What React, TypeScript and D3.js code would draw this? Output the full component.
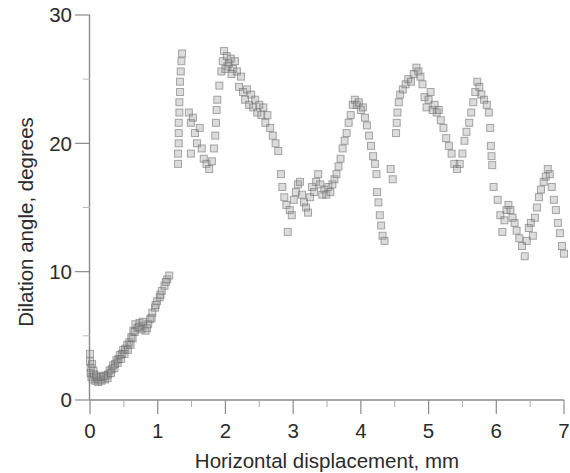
import React from 'react';
import * as d3 from 'd3';

// tick values
const xTicks = [0, 1, 2, 3, 4, 5, 6, 7];
const xMinorTicks = [0.5, 1.5, 2.5, 3.5, 4.5, 5.5, 6.5];
const yTicks = [0, 10, 20, 30];
const yMinorTicks = [5, 15, 25];

// [horizontal displacement mm, dilation angle deg]
const rampPoints: [number, number][] = [
    [0.00, 3.6], [0.00, 3.0], [0.01, 2.5], [0.01, 2.1], [0.02, 1.8], [0.04, 1.6], [0.06, 2.0], [0.08, 1.5],
    [0.10, 1.7], [0.12, 1.4], [0.14, 1.6], [0.17, 1.5], [0.19, 1.8], [0.22, 1.6], [0.24, 1.9], [0.27, 2.0],
    [0.29, 2.3], [0.32, 2.4], [0.34, 2.7], [0.37, 2.8], [0.39, 3.1], [0.42, 3.2], [0.44, 3.5], [0.47, 3.6],
    [0.49, 3.9], [0.52, 4.0], [0.55, 4.3], [0.58, 4.5], [0.61, 4.9], [0.64, 5.4], [0.67, 5.9], [0.70, 5.6],
    [0.73, 6.0], [0.76, 5.5], [0.79, 5.8], [0.82, 5.4], [0.86, 5.9], [0.89, 6.3], [0.92, 6.8], [0.96, 7.2],
    [0.99, 7.7], [1.03, 8.0], [1.06, 8.5], [1.10, 8.9], [1.14, 9.4], [1.17, 9.7],
    [0.03, 2.8], [0.05, 2.3], [0.09, 1.9], [0.16, 1.8], [0.21, 1.9], [0.26, 1.7], [0.31, 2.1], [0.36, 2.5],
    [0.41, 2.9], [0.46, 3.2], [0.51, 3.6], [0.56, 3.9], [0.60, 4.3], [0.63, 4.8], [0.66, 5.3], [0.72, 5.7],
    [0.78, 6.1], [0.84, 5.6], [0.91, 6.4], [0.97, 7.4], [1.04, 8.2], [1.12, 9.2],
];

const firstPeakPoints: [number, number][] = [
    [1.30, 18.4], [1.30, 19.2], [1.31, 20.0], [1.31, 20.8], [1.31, 21.6], [1.32, 22.4], [1.32, 23.2], [1.33, 24.0],
    [1.33, 24.8], [1.34, 25.6], [1.35, 26.4], [1.36, 27.0],
    [1.46, 22.4], [1.49, 21.6], [1.52, 22.0], [1.55, 20.8], [1.49, 19.2], [1.58, 20.0], [1.62, 21.2], [1.65, 19.6],
    [1.68, 18.8], [1.72, 18.4], [1.76, 18.0], [1.80, 18.6], [1.83, 19.6], [1.85, 20.6], [1.86, 21.6], [1.87, 22.6],
    [1.88, 23.4], [1.91, 24.5], [1.94, 25.6], [1.96, 26.4], [1.98, 27.2], [2.02, 26.8], [2.05, 26.2], [2.08, 26.6],
    [2.11, 25.8], [2.14, 26.4], [2.17, 25.6], [2.20, 24.4], [2.23, 25.2], [2.26, 24.0], [2.29, 23.4], [2.32, 24.2],
    [2.35, 23.0], [2.38, 23.8], [2.41, 22.8], [2.44, 23.4], [2.47, 22.4], [2.50, 23.0], [2.53, 22.2], [2.56, 22.8],
    [2.59, 21.6], [2.62, 22.2], [2.66, 21.2], [2.70, 20.6], [2.74, 20.0], [2.78, 19.4],
    [2.03, 26.0], [2.09, 25.4], [2.00, 25.8],
];

const valleyPoints: [number, number][] = [
    [2.82, 17.6], [2.84, 16.6], [2.87, 15.8], [2.90, 15.2], [2.92, 13.1], [2.95, 14.8], [2.98, 14.4], [3.01, 15.6],
    [3.04, 16.2], [3.07, 16.8], [3.10, 17.0], [3.13, 16.0], [3.16, 15.4], [3.19, 15.0], [3.22, 14.6], [3.25, 15.8],
    [3.28, 16.6], [3.31, 16.2], [3.34, 17.0], [3.37, 17.6], [3.40, 16.8], [3.43, 16.0], [3.46, 16.4], [3.49, 16.0],
    [3.52, 16.6], [3.55, 16.2], [3.58, 16.8], [3.61, 17.2],
];

const secondPeakPoints: [number, number][] = [
    [3.64, 17.6], [3.67, 18.2], [3.70, 18.8], [3.73, 19.6], [3.76, 20.2], [3.79, 20.8], [3.82, 21.6], [3.85, 22.2],
    [3.88, 23.0], [3.91, 23.4], [3.94, 23.0], [3.97, 23.2], [4.00, 22.6], [4.03, 22.8], [4.06, 22.0], [4.09, 21.4],
    [4.12, 20.6], [4.15, 19.8], [4.18, 19.0], [4.21, 18.4], [4.23, 17.6], [4.24, 16.2], [4.26, 15.4], [4.28, 14.4],
    [4.30, 13.6], [4.32, 12.8], [4.35, 12.4], [4.44, 18.0], [4.47, 17.2],
];

const thirdPeakPoints: [number, number][] = [
    [4.52, 20.8], [4.53, 21.6], [4.54, 22.4], [4.56, 23.2], [4.58, 23.8], [4.62, 24.2], [4.66, 24.6], [4.70, 25.0],
    [4.74, 24.8], [4.78, 25.4], [4.82, 25.9], [4.85, 25.6], [4.88, 25.2], [4.91, 24.6], [4.94, 23.6], [4.97, 22.8],
    [5.00, 23.4], [5.03, 24.0], [5.06, 22.6], [5.09, 23.0], [5.12, 22.4], [5.15, 22.6], [5.18, 21.8], [5.22, 21.2],
    [5.26, 20.4], [5.30, 19.8], [5.34, 19.2], [5.38, 18.4], [5.42, 18.0], [5.46, 18.4], [5.50, 19.2],
];

const fourthPeakPoints: [number, number][] = [
    [5.53, 20.2], [5.56, 20.9], [5.60, 21.6], [5.63, 22.4], [5.66, 23.2], [5.69, 24.0], [5.72, 24.8], [5.75, 24.4],
    [5.78, 23.8], [5.82, 23.4], [5.86, 23.0], [5.89, 22.4], [5.91, 21.2], [5.92, 19.8], [5.93, 19.0], [5.94, 18.3],
    [5.96, 16.6],
];

const tailPoints: [number, number][] = [
    [6.02, 15.6], [6.06, 14.4], [6.09, 13.1], [6.12, 14.0], [6.15, 14.8], [6.18, 15.2], [6.21, 14.8], [6.24, 14.2],
    [6.27, 13.8], [6.30, 13.2], [6.34, 12.6], [6.38, 12.0], [6.42, 11.2], [6.45, 12.4], [6.48, 13.4], [6.51, 13.8],
    [6.54, 12.8], [6.57, 14.2], [6.60, 15.0], [6.63, 15.8], [6.66, 16.4], [6.70, 17.0], [6.73, 17.4], [6.76, 18.0],
    [6.79, 17.6], [6.82, 16.6], [6.85, 15.6], [6.88, 14.8], [6.91, 13.8], [6.94, 13.0], [6.97, 12.0], [7.00, 11.4],
];

const allPoints = [
    ...rampPoints, ...firstPeakPoints, ...valleyPoints, ...secondPeakPoints,
    ...thirdPeakPoints, ...fourthPeakPoints, ...tailPoints,
];

const W = 570;
const H = 473;
const font = '"Liberation Sans", Arial, Helvetica, sans-serif';
const textColor = '#2b2b2b';
const axisColor = '#8a8a8a';

export default function App() {
    const x = d3.scaleLinear().domain([0, 7]).range([90, 564]);
    const y = d3.scaleLinear().domain([0, 30]).range([400, 15]);
    const marker = 7;

    return (
        <svg width={W} height={H} style={{ position: 'absolute', left: 0, top: 0, background: '#fff' }}>
            <defs>
                <filter id="soft" x="-10%" y="-10%" width="120%" height="120%">
                    <feGaussianBlur stdDeviation="0.7" />
                </filter>
            </defs>

            {/* points */}
            <g filter="url(#soft)">
                {allPoints.map((d, i) => (
                    <rect
                        key={i}
                        x={x(d[0]) - marker / 2}
                        y={y(d[1]) - marker / 2}
                        width={marker}
                        height={marker}
                        fill="#9a9a9a"
                        fillOpacity={0.35}
                        stroke="#666"
                        strokeOpacity={0.55}
                        strokeWidth={1}
                    />
                ))}
            </g>

            {/* axes */}
            <line x1={x(0) - 0.5} x2={x(0) - 0.5} y1={y(30)} y2={y(0)} stroke={axisColor} strokeWidth={1.4} />
            <line x1={x(0)} x2={x(7)} y1={y(0)} y2={y(0)} stroke={axisColor} strokeWidth={1.4} />

            {yTicks.map(t => (
                <g key={`yt${t}`}>
                    <line x1={x(0) - 15} x2={x(0)} y1={y(t)} y2={y(t)} stroke={axisColor} strokeWidth={1.2} />
                    <text x={x(0) - 18} y={y(t)} dy="0.36em" textAnchor="end" fontFamily={font} fontSize={20.5} fill={textColor}>
                        {t}
                    </text>
                </g>
            ))}
            {yMinorTicks.map(t => (
                <line key={`ym${t}`} x1={x(0) - 7} x2={x(0)} y1={y(t)} y2={y(t)} stroke="#bbb" strokeWidth={1} />
            ))}

            {xTicks.map(t => (
                <g key={`xt${t}`}>
                    <line x1={x(t)} x2={x(t)} y1={y(0)} y2={y(0) + 14} stroke={axisColor} strokeWidth={1.2} />
                    <text x={x(t)} y={438} textAnchor="middle" fontFamily={font} fontSize={20.5} fill={textColor}>
                        {t}
                    </text>
                </g>
            ))}
            {xMinorTicks.map(t => (
                <line key={`xm${t}`} x1={x(t)} x2={x(t)} y1={y(0)} y2={y(0) + 7} stroke="#aaa" strokeWidth={1} />
            ))}

            {/* axis titles */}
            <text x={327} y={468} textAnchor="middle" fontFamily={font} fontSize={20.5} fill={textColor}>
                Horizontal displacement, mm
            </text>
            <text
                transform={`translate(33,${222}) rotate(-90)`}
                textAnchor="middle"
                fontFamily={font}
                fontSize={20.5}
                fill={textColor}
            >
                Dilation angle, degrees
            </text>
        </svg>
    );
}
